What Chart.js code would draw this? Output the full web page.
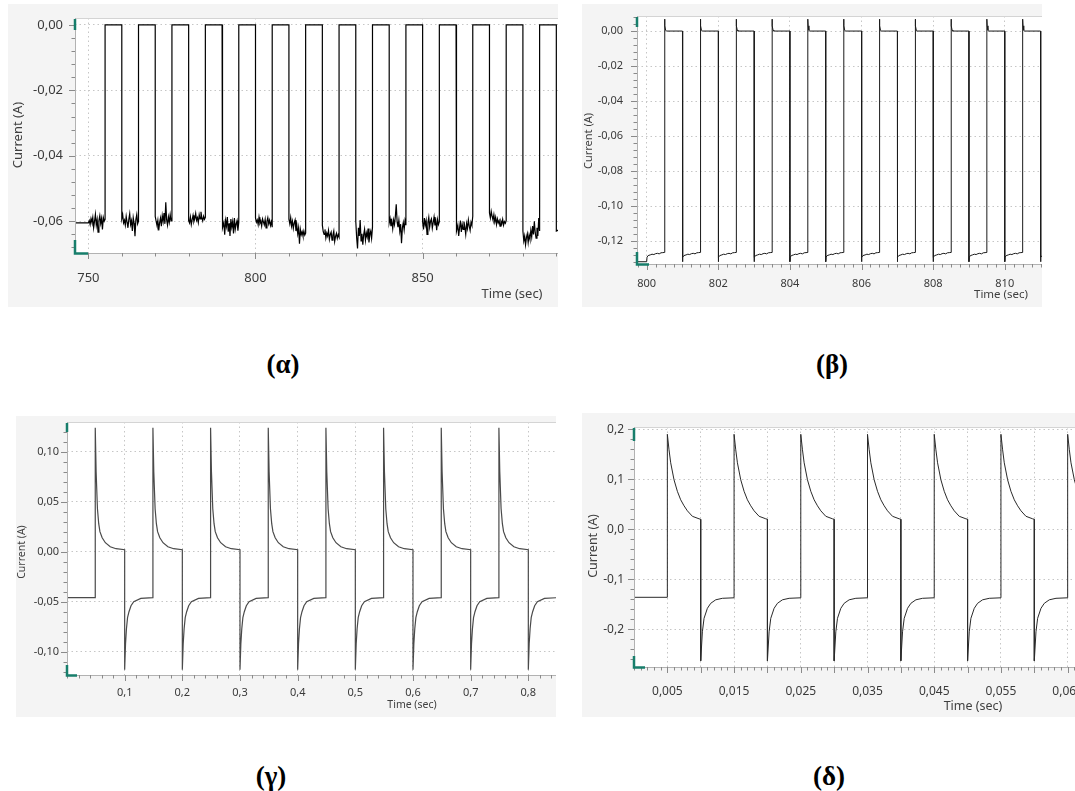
<!DOCTYPE html>
<html>
<head>
<meta charset="utf-8">
<script src="https://cdn.jsdelivr.net/npm/chart.js@4.4.0/dist/chart.umd.min.js"></script>
<style>
  html, body { margin: 0; padding: 0; background: #fff; }
  body { width: 1075px; height: 791px; position: relative; overflow: hidden; }
  .panel { position: absolute; background: #f4f4f4; }
  .cap { position: absolute; width: 80px; margin-left: -40px; text-align: center; line-height: 30px;
         font: bold 27px "Liberation Serif", "Times New Roman", serif; color: #000; }
</style>
</head>
<body>
<div class="panel" style="left:8px;top:4px;width:550px;height:303px"><canvas id="chAlpha"></canvas></div>
<div class="panel" style="left:582px;top:4px;width:460px;height:303px"><canvas id="chBeta"></canvas></div>
<div class="panel" style="left:16px;top:416px;width:540px;height:301px"><canvas id="chGamma"></canvas></div>
<div class="panel" style="left:582px;top:413px;width:493px;height:304px"><canvas id="chDelta"></canvas></div>
<div class="cap" style="left:283px;top:349px">(α)</div>
<div class="cap" style="left:832px;top:349px">(β)</div>
<div class="cap" style="left:271px;top:761px">(γ)</div>
<div class="cap" style="left:829px;top:761px">(δ)</div>
<script>
var FONT = '"Noto Sans", "Open Sans", sans-serif';

// ---- (α) 750-890 s, slow square wave with noisy low level ----
var alphaXTicks = [750, 800, 850];
var alphaXLabels = ['750', '800', '850'];
var alphaYTicks = [-0.06, -0.04, -0.02, 0.00];
var alphaYLabels = ['-0,06', '-0,04', '-0,02', '0,00'];
var alphaLeadTime = [746, 750];
var alphaLeadCurrent = [-0.0605, -0.0605];
var alphaRise = [755, 765, 775, 785, 795, 805, 815, 825, 835, 845, 855, 865, 875, 885];
var alphaFall = [760, 770, 780, 790, 800, 810, 820, 830, 840, 850, 860, 870, 880, 890];
var alphaHigh = 0.0000;
var alphaLowStart = [750, 760, 770, 780, 790, 800, 810, 820, 830, 840, 850, 860, 870, 880, 890];
var alphaEnd = 891;
var alphaLowNoise = [
  [-0.0605,-0.0598,-0.0610,-0.0592,-0.0603,-0.0588,-0.0620,-0.0600,-0.0579,-0.0612,-0.0595,-0.0633,-0.0598,-0.0583,-0.0607,-0.0591,-0.0625,-0.0589,-0.0600,-0.0594],
  [-0.0592,-0.0580,-0.0605,-0.0597,-0.0612,-0.0585,-0.0603,-0.0620,-0.0594,-0.0577,-0.0610,-0.0598,-0.0630,-0.0589,-0.0606,-0.0646,-0.0595,-0.0580,-0.0608,-0.0600],
  [-0.0585,-0.0600,-0.0613,-0.0597,-0.0628,-0.0604,-0.0590,-0.0615,-0.0583,-0.0601,-0.0575,-0.0608,-0.0542,-0.0596,-0.0612,-0.0587,-0.0603,-0.0580,-0.0599,-0.0592],
  [-0.0598,-0.0605,-0.0587,-0.0610,-0.0595,-0.0582,-0.0601,-0.0592,-0.0576,-0.0597,-0.0589,-0.0604,-0.0580,-0.0593,-0.0571,-0.0590,-0.0599,-0.0585,-0.0594,-0.0588],
  [-0.0595,-0.0620,-0.0604,-0.0641,-0.0598,-0.0615,-0.0587,-0.0632,-0.0606,-0.0645,-0.0593,-0.0618,-0.0601,-0.0637,-0.0590,-0.0624,-0.0608,-0.0598,-0.0629,-0.0603],
  [-0.0590,-0.0603,-0.0596,-0.0610,-0.0588,-0.0606,-0.0599,-0.0615,-0.0593,-0.0602,-0.0611,-0.0594,-0.0620,-0.0600,-0.0589,-0.0608,-0.0597,-0.0613,-0.0602,-0.0618],
  [-0.0594,-0.0608,-0.0589,-0.0615,-0.0600,-0.0622,-0.0605,-0.0596,-0.0630,-0.0612,-0.0638,-0.0620,-0.0669,-0.0625,-0.0641,-0.0632,-0.0645,-0.0630,-0.0642,-0.0636],
  [-0.0612,-0.0632,-0.0640,-0.0625,-0.0651,-0.0636,-0.0645,-0.0628,-0.0655,-0.0640,-0.0633,-0.0658,-0.0642,-0.0630,-0.0662,-0.0646,-0.0637,-0.0652,-0.0641,-0.0648],
  [-0.0600,-0.0650,-0.0683,-0.0620,-0.0645,-0.0596,-0.0660,-0.0638,-0.0672,-0.0641,-0.0625,-0.0658,-0.0636,-0.0648,-0.0622,-0.0665,-0.0640,-0.0630,-0.0652,-0.0618],
  [-0.0605,-0.0592,-0.0615,-0.0600,-0.0623,-0.0596,-0.0610,-0.0585,-0.0548,-0.0602,-0.0618,-0.0597,-0.0630,-0.0609,-0.0667,-0.0620,-0.0604,-0.0626,-0.0598,-0.0612],
  [-0.0602,-0.0625,-0.0590,-0.0612,-0.0598,-0.0640,-0.0605,-0.0588,-0.0618,-0.0600,-0.0593,-0.0621,-0.0604,-0.0587,-0.0613,-0.0599,-0.0627,-0.0595,-0.0610,-0.0601],
  [-0.0605,-0.0630,-0.0612,-0.0645,-0.0620,-0.0598,-0.0633,-0.0610,-0.0625,-0.0601,-0.0618,-0.0640,-0.0607,-0.0622,-0.0596,-0.0615,-0.0628,-0.0603,-0.0612,-0.0585],
  [-0.0575,-0.0590,-0.0570,-0.0585,-0.0596,-0.0580,-0.0602,-0.0588,-0.0610,-0.0593,-0.0605,-0.0598,-0.0615,-0.0600,-0.0608,-0.0594,-0.0612,-0.0601,-0.0606,-0.0598],
  [-0.0630,-0.0660,-0.0645,-0.0672,-0.0650,-0.0638,-0.0665,-0.0642,-0.0655,-0.0628,-0.0648,-0.0615,-0.0640,-0.0600,-0.0635,-0.0652,-0.0620,-0.0645,-0.0590,-0.0630],
  [-0.0630,-0.0625]
];

// ---- (β) 800-811 s, 1 Hz ----
var betaXTicks = [800, 802, 804, 806, 808, 810];
var betaXLabels = ['800', '802', '804', '806', '808', '810'];
var betaYTicks = [-0.12, -0.10, -0.08, -0.06, -0.04, -0.02, 0.00];
var betaYLabels = ['-0,12', '-0,10', '-0,08', '-0,06', '-0,04', '-0,02', '0,00'];
var betaLeadTime = [799.73];
var betaLeadCurrent = [-0.1318];
var betaFall = [800, 801, 802, 803, 804, 805, 806, 807, 808, 809, 810, 811];
var betaRise = [800.5, 801.5, 802.5, 803.5, 804.5, 805.5, 806.5, 807.5, 808.5, 809.5, 810.5];
var betaLowOffset = [0, 0.01, 0.04, 0.1, 0.15, 0.2, 0.25, 0.3, 0.35, 0.4, 0.45, 0.5];
var betaLowShape = [-0.1318, -0.1292, -0.1283, -0.1279, -0.1275, -0.1277, -0.1272, -0.1270, -0.1273, -0.1267, -0.1266, -0.1265];
var betaHighOffset = [0, 0.01, 0.03, 0.05, 0.5];
var betaHighShape = [0.0068, 0.0030, 0.0005, 0.0000, 0.0000];

// ---- (γ) 0-0.85 s, 10 Hz ----
var gammaXTicks = [0.1, 0.2, 0.3, 0.4, 0.5, 0.6, 0.7, 0.8];
var gammaXLabels = ['0,1', '0,2', '0,3', '0,4', '0,5', '0,6', '0,7', '0,8'];
var gammaYTicks = [-0.10, -0.05, 0.00, 0.05, 0.10];
var gammaYLabels = ['-0,10', '-0,05', '0,00', '0,05', '0,10'];
var gammaLeadTime = [0, 0.049];
var gammaLeadCurrent = [-0.046, -0.046];
var gammaRise = [0.049, 0.149, 0.249, 0.349, 0.449, 0.549, 0.649, 0.749];
var gammaFall = [0.1, 0.2, 0.3, 0.4, 0.5, 0.6, 0.7, 0.8];
var gammaHighOffset = [0, 0.0015, 0.0038, 0.006, 0.0081, 0.012, 0.0175, 0.026, 0.036, 0.051];
var gammaHighShape = [0.124, 0.080, 0.043, 0.028, 0.020, 0.014, 0.009, 0.005, 0.003, 0.002];
var gammaLowOffset = [0, 0.0015, 0.0031, 0.005, 0.0075, 0.011, 0.0157, 0.028, 0.049];
var gammaLowShape = [-0.118, -0.092, -0.077, -0.066, -0.060, -0.054, -0.050, -0.0467, -0.046];

// ---- (δ) 0-0.066 s, 100 Hz ----
var deltaXTicks = [0.005, 0.010, 0.015, 0.020, 0.025, 0.030, 0.035, 0.040, 0.045, 0.050, 0.055, 0.060, 0.065];
var deltaXLabels = ['0,005', '', '0,015', '', '0,025', '', '0,035', '', '0,045', '', '0,055', '', '0,065'];
var deltaYTicks = [-0.2, -0.1, 0.0, 0.1, 0.2];
var deltaYLabels = ['-0,2', '-0,1', '0,0', '0,1', '0,2'];
var deltaLeadTime = [0, 0.005];
var deltaLeadCurrent = [-0.136, -0.136];
var deltaRise = [0.005, 0.015, 0.025, 0.035, 0.045, 0.055, 0.065];
var deltaFall = [0.010, 0.020, 0.030, 0.040, 0.050, 0.060];
var deltaHighOffset = [0, 0.00025, 0.0005, 0.001, 0.0015, 0.002, 0.0025, 0.003, 0.00375, 0.00475, 0.005];
var deltaHighShape = [0.190, 0.159, 0.133, 0.099, 0.076, 0.059, 0.047, 0.037, 0.026, 0.021, 0.020];
var deltaLowOffset = [0, 0.00025, 0.0005, 0.001, 0.0015, 0.00225, 0.00325, 0.005];
var deltaLowShape = [-0.263, -0.205, -0.178, -0.158, -0.148, -0.141, -0.138, -0.137];

// builds {x,y} list: lead, then alternating rise/fall shapes
function pulseSeries(leadT, leadV, rise, fall, hiOff, hiVal, loOff, loVal, fallFirst) {
  var pts = leadT.map(function (t, i) { return { x: t, y: leadV[i] }; });
  function put(t0, off, val) {
    off.forEach(function (o, i) { pts.push({ x: t0 + o, y: val[i] }); });
  }
  var n = Math.max(rise.length, fall.length);
  for (var k = 0; k < n; k++) {
    if (fallFirst) {
      if (k < fall.length) put(fall[k], loOff, loVal);
      if (k < rise.length) put(rise[k], hiOff, hiVal);
    } else {
      if (k < rise.length) put(rise[k], hiOff, hiVal);
      if (k < fall.length) put(fall[k], loOff, loVal);
    }
  }
  return pts;
}

function alphaSeries() {
  var pts = alphaLeadTime.map(function (t, i) { return { x: t, y: alphaLeadCurrent[i] }; });
  alphaLowNoise.forEach(function (seg, k) {
    var t0 = alphaLowStart[k];
    var t1 = k < alphaRise.length ? alphaRise[k] : alphaEnd;
    seg.forEach(function (v, j) { pts.push({ x: t0 + (t1 - t0) * j / (seg.length - 1), y: v }); });
    if (k < alphaRise.length) {
      pts.push({ x: alphaRise[k], y: alphaHigh });
      pts.push({ x: alphaFall[k], y: alphaHigh });
    }
  });
  return pts;
}

// white plot area, axes, minor ticks, teal corner marks, axis titles
var frame = {
  id: 'frame',
  beforeDraw: function (chart) {
    var c = chart.ctx, a = chart.chartArea;
    c.save();
    c.fillStyle = '#fff';
    c.fillRect(a.left, a.top, a.right - a.left, a.bottom - a.top);
    c.restore();
  },
  afterDraw: function (chart, args, o) {
    var c = chart.ctx, a = chart.chartArea, xs = chart.scales.x, ys = chart.scales.y;
    function each(min, max, step, majors, fn) {
      for (var i = Math.ceil(min / step - 1e-6); i <= Math.floor(max / step + 1e-6); i++) {
        var v = i * step;
        var major = majors.some(function (m) { return Math.abs(m - v) < step * 1e-3; });
        fn(v, major);
      }
    }
    c.save();
    c.lineWidth = 1;
    c.strokeStyle = '#d4d4d4';
    c.beginPath();
    c.moveTo(a.left, a.top + 0.5); c.lineTo(a.right, a.top + 0.5);
    c.stroke();
    c.strokeStyle = '#b2b2b2';
    c.beginPath();
    c.moveTo(a.left + 0.5, a.top); c.lineTo(a.left + 0.5, a.bottom);
    c.moveTo(a.left, a.bottom + 0.5); c.lineTo(a.right, a.bottom + 0.5);
    c.stroke();
    c.strokeStyle = '#8a8a8a';
    c.beginPath();
    each(ys.min, ys.max, o.yMinor, o.yMajor, function (v, major) {
      var py = Math.round(ys.getPixelForValue(v)) + 0.5;
      c.moveTo(a.left, py); c.lineTo(a.left - (major ? 6 : 3.5), py);
    });
    each(xs.min, xs.max, o.xMinor, o.xMajor, function (v, major) {
      var px = Math.round(xs.getPixelForValue(v)) + 0.5;
      c.moveTo(px, a.bottom); c.lineTo(px, a.bottom + (major ? 6 : 3.5));
    });
    c.stroke();
    // teal corner marks
    c.strokeStyle = '#177e6b';
    c.lineWidth = 2.5;
    c.beginPath();
    c.moveTo(a.left, a.top + 1); c.lineTo(a.left, a.top + o.markTop);
    c.moveTo(a.left, a.bottom - o.markSide); c.lineTo(a.left, a.bottom + 0.5); c.lineTo(a.left + o.markSide, a.bottom + 0.5);
    c.stroke();
    c.fillStyle = '#404040';
    c.textAlign = 'center';
    c.textBaseline = 'middle';
    o.titles.forEach(function (t) {
      c.save();
      c.translate(t.x, t.y);
      if (t.rot) c.rotate(t.rot);
      c.font = t.size + 'px ' + FONT;
      c.fillText(t.text, 0, 0);
      c.restore();
    });
    c.restore();
  }
};

function makeChart(id, p) {
  return new Chart(document.getElementById(id), {
    type: 'line',
    data: { datasets: [{ data: p.points, borderColor: p.color, borderWidth: p.lineWidth, pointRadius: 0, tension: 0, fill: false }] },
    options: {
      animation: false,
      responsive: true,
      maintainAspectRatio: false,
      parsing: false,
      events: [],
      layout: { padding: p.padding },
      plugins: { legend: { display: false }, tooltip: { enabled: false }, frame: p.frame },
      scales: {
        x: {
          type: 'linear', min: p.xMin, max: p.xMax,
          afterBuildTicks: function (s) { s.ticks = p.xTicks.map(function (v) { return { value: v }; }); },
          afterFit: function (s) { s.height = p.xHeight; s.paddingLeft = 0; s.paddingRight = 0; },
          ticks: { autoSkip: false, maxRotation: 0, padding: p.xPad, color: '#3a3a3a',
                   font: { family: FONT, size: p.font }, callback: function (v, i) { return p.xLabels[i]; } },
          grid: { color: '#c6c6c6', drawTicks: false, lineWidth: 1 },
          border: { display: false, dash: [1.5, 3] }
        },
        y: {
          type: 'linear', min: p.yMin, max: p.yMax,
          afterBuildTicks: function (s) { s.ticks = p.yTicks.map(function (v) { return { value: v }; }); },
          afterFit: function (s) { s.width = p.yWidth; s.paddingTop = 0; s.paddingBottom = 0; },
          ticks: { autoSkip: false, padding: p.yPad, color: '#3a3a3a',
                   font: { family: FONT, size: p.font }, callback: function (v, i) { return p.yLabels[i]; } },
          grid: { color: '#c6c6c6', drawTicks: false, lineWidth: 1 },
          border: { display: false, dash: [1.5, 3] }
        }
      }
    },
    plugins: [frame]
  });
}

var UP = -Math.PI / 2;

makeChart('chAlpha', {
  points: alphaSeries(), color: '#000', lineWidth: 1.2,
  xMin: 746, xMax: 890.5, yMin: -0.0697, yMax: 0.0021,
  xTicks: alphaXTicks, xLabels: alphaXLabels, yTicks: alphaYTicks, yLabels: alphaYLabels,
  padding: { left: 0, top: 14, right: 0, bottom: 0 }, yWidth: 67, xHeight: 54, xPad: 17, yPad: 12, font: 13,
  frame: { xMinor: 10, xMajor: alphaXTicks, yMinor: 0.004, yMajor: alphaYTicks, markTop: 12, markSide: 13,
    titles: [{ text: 'Current (A)', x: 10, y: 131, rot: UP, size: 13 }, { text: 'Time (sec)', x: 504, y: 290, size: 13 }] }
});

makeChart('chBeta', {
  points: pulseSeries(betaLeadTime, betaLeadCurrent, betaRise, betaFall, betaHighOffset, betaHighShape, betaLowOffset, betaLowShape, true),
  color: '#1a1a1a', lineWidth: 1,
  xMin: 799.73, xMax: 811.04, yMin: -0.1331, yMax: 0.0086,
  xTicks: betaXTicks, xLabels: betaXLabels, yTicks: betaYTicks, yLabels: betaYLabels,
  padding: { left: 0, top: 12, right: 0, bottom: 0 }, yWidth: 55, xHeight: 43, xPad: 13, yPad: 14, font: 11,
  frame: { xMinor: 0.25, xMajor: betaXTicks, yMinor: 0.004, yMajor: betaYTicks, markTop: 11, markSide: 12,
    titles: [{ text: 'Current (A)', x: 7, y: 137, rot: UP, size: 11 }, { text: 'Time (sec)', x: 419, y: 291, size: 11.5 }] }
});

makeChart('chGamma', {
  points: pulseSeries(gammaLeadTime, gammaLeadCurrent, gammaRise, gammaFall, gammaHighOffset, gammaHighShape, gammaLowOffset, gammaLowShape, false),
  color: '#4a4a4a', lineWidth: 1.2,
  xMin: 0, xMax: 0.848, yMin: -0.1233, yMax: 0.1297,
  xTicks: gammaXTicks, xLabels: gammaXLabels, yTicks: gammaYTicks, yLabels: gammaYLabels,
  padding: { left: 0, top: 6, right: 0, bottom: 0 }, yWidth: 51, xHeight: 42, xPad: 11, yPad: 8, font: 11,
  frame: { xMinor: 0.02, xMajor: gammaXTicks, yMinor: 0.01, yMajor: gammaYTicks, markTop: 10, markSide: 10,
    titles: [{ text: 'Current (A)', x: 6, y: 136, rot: UP, size: 10.5 }, { text: 'Time (sec)', x: 396, y: 289, size: 10.5 }] }
});

makeChart('chDelta', {
  points: pulseSeries(deltaLeadTime, deltaLeadCurrent, deltaRise, deltaFall, deltaHighOffset, deltaHighShape, deltaLowOffset, deltaLowShape, false),
  color: '#2a2a2a', lineWidth: 1,
  xMin: 0, xMax: 0.0661, yMin: -0.2754, yMax: 0.2046,
  xTicks: deltaXTicks, xLabels: deltaXLabels, yTicks: deltaYTicks, yLabels: deltaYLabels,
  padding: { left: 0, top: 14, right: 0, bottom: 0 }, yWidth: 52, xHeight: 50, xPad: 17, yPad: 10, font: 12,
  frame: { xMinor: 0.001, xMajor: deltaXTicks, yMinor: 0.02, yMajor: deltaYTicks, markTop: 14, markSide: 11,
    titles: [{ text: 'Current (A)', x: 11, y: 133, rot: UP, size: 12.5 }, { text: 'Time (sec)', x: 391, y: 293, size: 12.5 }] }
});
</script>
</body>
</html>
